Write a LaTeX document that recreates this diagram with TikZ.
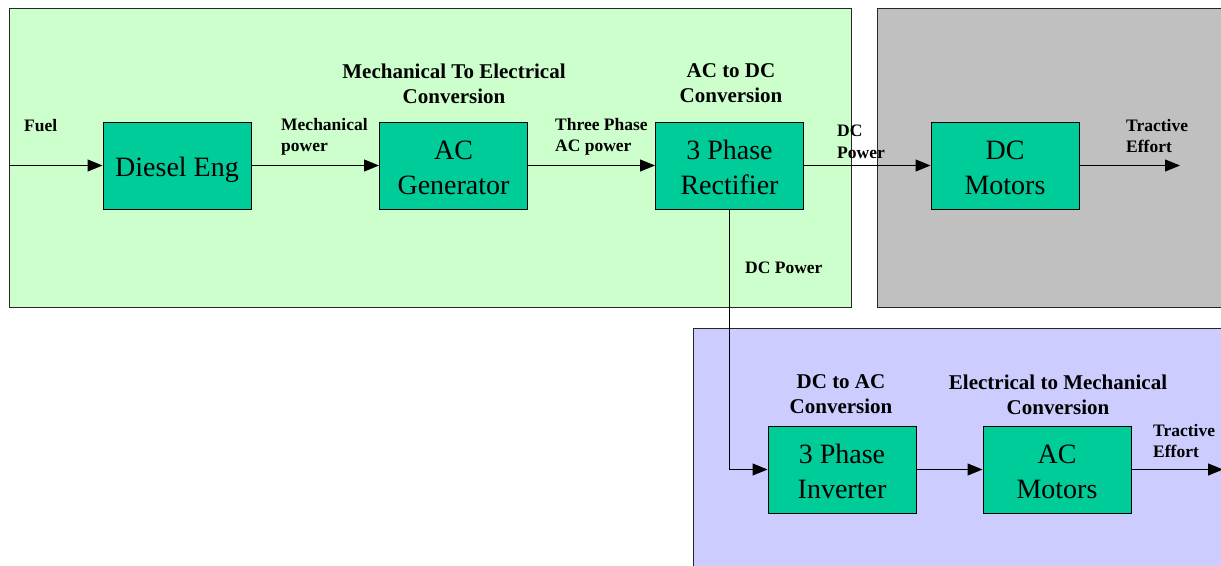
\documentclass[tikz,border=0pt]{standalone}
\usepackage{fontspec}
\setmainfont{Liberation Serif}
\usetikzlibrary{arrows.meta}
\definecolor{panelgreen}{HTML}{CCFFCC}
\definecolor{panelgray}{HTML}{C0C0C0}
\definecolor{panelblue}{HTML}{CCCCFF}
\definecolor{boxgreen}{HTML}{00CC99}
\newcommand{\bt}[1]{\raisebox{-4pt}[\height][\depth]{\begin{tabular}{@{}c@{}}#1\end{tabular}}}
\tikzset{
  panel/.style={draw=black!85, line width=1pt},
  blk/.style={draw=black, line width=1pt, fill=boxgreen, minimum width=148pt, minimum height=87pt, align=center, inner sep=0pt, font=\fontsize{28}{35}\selectfont},
  lbl/.style={anchor=west, align=left, inner sep=0pt, font=\bfseries\fontsize{17.5}{21.5}\selectfont},
  head/.style={align=center, inner sep=0pt, font=\bfseries\fontsize{21}{25}\selectfont},
  flow/.style={line width=1pt, -{Triangle[length=15pt,width=12pt]}},
  wire/.style={line width=1pt}
}
\begin{document}
\begin{tikzpicture}[x=1pt,y=-1pt]
\clip (0,0) rectangle (1221,565);
\fill[white] (0,0) rectangle (1221,565);
\draw[panel, fill=panelgreen] (9,8) rectangle (851,307);
\draw[panel, fill=panelgray] (877,8) rectangle (1240,307);
\draw[panel, fill=panelblue] (693,328) rectangle (1240,580);

\node[blk] (de) at (177,165.5) {\bt{Diesel Eng}};
\node[blk] (acg) at (453.5,165.5) {\bt{AC\\Generator}};
\node[blk] (rect) at (729.5,165.5) {\bt{3 Phase\\Rectifier}};
\node[blk] (dcm) at (1005,165.5) {\bt{DC\\Motors}};
\node[blk] (inv) at (842,469.5) {\bt{3 Phase\\Inverter}};
\node[blk] (acm) at (1057,469.5) {\bt{AC\\Motors}};

\coordinate (fuelin) at (9,165.5);
\coordinate (teout) at (1180,165.5);
\coordinate (teout2) at (1223,469.5);

\draw[flow] (fuelin) -- (de);
\draw[flow] (de) -- (acg);
\draw[flow] (acg) -- (rect);
\draw[flow] (rect) -- (dcm);
\draw[flow] (dcm) -- (teout);
\draw[flow] (rect.south) |- (inv.west);
\draw[flow] (inv) -- (acm);
\draw[flow] (acm) -- (teout2);

\node[lbl] (lfuel) at (24,126) {Fuel};
\node[lbl] (lmech) at (281,137) {Mechanical\\power};
\node[lbl] (l3ph) at (555,137) {Three Phase\\AC power};
\node[lbl] (ldc) at (837,142) {DC\\Power};
\node[lbl] (lte) at (1126,136) {Tractive\\Effort};
\node[lbl] (ldc2) at (745,268) {DC Power};
\node[lbl] (lte2) at (1153,441) {Tractive\\Effort};

\node[head] (h1) at (454,83.5) {Mechanical To Electrical\\Conversion};
\node[head] (h2) at (731,83.5) {AC to DC\\Conversion};
\node[head] (h3) at (841,394.5) {DC to AC\\Conversion};
\node[head] (h4) at (1058,394.5) {Electrical to Mechanical\\Conversion};
\end{tikzpicture}
\end{document}
